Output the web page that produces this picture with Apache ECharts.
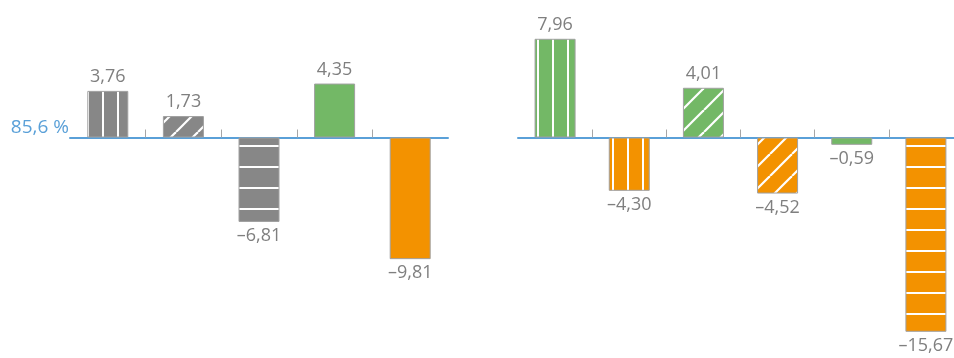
<!DOCTYPE html>
<html>
<head>
<meta charset="utf-8">
<script src="https://cdn.jsdelivr.net/npm/echarts@6/dist/echarts.min.js"></script>
<style>
    html, body { margin: 0; padding: 0; background: #fff; }
    #chart { width: 954px; height: 358px; }
</style>
</head>
<body>
<div id="chart"></div>
<script>
// Data
const baselineLabel = '85,6 %';
const leftCategories = ['L1', 'L2', 'L3', 'L4', 'L5'];
const leftValues = [3.76, 1.73, -6.81, 4.35, -9.81];
const rightCategories = ['R1', 'R2', 'R3', 'R4', 'R5', 'R6'];
const rightValues = [7.96, -4.30, 4.01, -4.52, -0.59, -15.67];

// Fill style for each bar (colour + stripe pattern)
const leftFills = [['gray', 'v'], ['gray', 'd'], ['gray', 'h'], ['green', ''], ['orange', '']];
const rightFills = [['green', 'v'], ['orange', 'v'], ['green', 'd'], ['orange', 'd'], ['green', 'h'], ['orange', 'h']];

document.addEventListener('DOMContentLoaded', function() {
    const colors = { gray: '#878787', green: '#73b866', orange: '#f39200' };
    const blue = '#5aa0d8';
    const labelGray = '#7f7f7f';

    function makePattern(bg, type) {
        const c = document.createElement('canvas');
        const ctx = c.getContext('2d');
        if (type === 'v') {
            c.width = 15; c.height = 4;
            ctx.fillStyle = bg; ctx.fillRect(0, 0, 15, 4);
            ctx.fillStyle = '#fff'; ctx.fillRect(12, 0, 2, 4);
        } else if (type === 'h') {
            c.width = 4; c.height = 21;
            ctx.fillStyle = bg; ctx.fillRect(0, 0, 4, 21);
            ctx.fillStyle = '#fff'; ctx.fillRect(0, 19, 4, 2);
        } else {
            const p = 22;
            c.width = p; c.height = p;
            ctx.fillStyle = bg; ctx.fillRect(0, 0, p, p);
            ctx.strokeStyle = '#fff'; ctx.lineWidth = 2.2;
            for (let k = -1; k <= 1; k++) {
                ctx.beginPath();
                ctx.moveTo(k * p, p);
                ctx.lineTo(k * p + p, 0);
                ctx.stroke();
            }
        }
        return { image: c, repeat: 'repeat' };
    }

    function fillFor(f) {
        return f[1] ? makePattern(colors[f[0]], f[1]) : colors[f[0]];
    }

    function fmt(v) {
        return (v < 0 ? '\u2013' : '') + Math.abs(v).toFixed(2).replace('.', ',');
    }

    function barData(values, fills) {
        return values.map(function(v, i) {
            return {
                value: v,
                itemStyle: { color: fillFor(fills[i]) },
                label: { position: v < 0 ? 'bottom' : 'top' }
            };
        });
    }

    function boundaries(n) {
        const arr = [];
        for (let i = 0; i <= n; i++) arr.push('b' + i);
        return arr;
    }

    const yMin = -18, yMax = 10;
    const unit = 12.4;
    const gridTop = 13.5;
    const gridHeight = (yMax - yMin) * unit;

    const mainAxis = function(gridIndex, cats) {
        return {
            type: 'category',
            gridIndex: gridIndex,
            data: cats,
            axisLine: { onZero: true, lineStyle: { color: blue, width: 2 } },
            axisTick: { show: false },
            axisLabel: { show: false }
        };
    };
    const tickAxis = function(gridIndex, n) {
        return {
            type: 'category',
            gridIndex: gridIndex,
            position: 'top',
            offset: -yMax * unit,
            boundaryGap: false,
            data: boundaries(n),
            axisLine: { show: false },
            axisLabel: { show: false },
            axisTick: {
                show: true,
                length: 8,
                interval: function(i) { return i > 0 && i < n; },
                lineStyle: { color: '#a6a6a6', width: 1 }
            }
        };
    };

    const barLabel = {
        show: true,
        distance: 5,
        color: labelGray,
        fontSize: 18,
        fontFamily: 'Open Sans',
        formatter: function(p) { return fmt(p.value); }
    };
    const barStyle = { borderColor: '#a0a0a0', borderWidth: 1 };

    const chart = echarts.init(document.getElementById('chart'));
    const option = {
        animation: false,
        grid: [
            { left: 70, width: 378, top: gridTop, height: gridHeight, outerBoundsMode: 'none' },
            { left: 518, width: 445, top: gridTop, height: gridHeight, outerBoundsMode: 'none' }
        ],
        xAxis: [
            mainAxis(0, leftCategories),
            tickAxis(0, leftCategories.length),
            mainAxis(1, rightCategories),
            tickAxis(1, rightCategories.length)
        ],
        yAxis: [
            {
                type: 'value', gridIndex: 0, min: yMin, max: yMax, interval: 2,
                axisLine: { show: false }, axisTick: { show: false }, splitLine: { show: false },
                axisLabel: {
                    margin: 1,
                    color: blue,
                    fontSize: 19,
                    fontFamily: 'Open Sans',
                    verticalAlign: 'bottom',
                    formatter: function(v) { return v === 0 ? baselineLabel : ''; }
                }
            },
            {
                type: 'value', gridIndex: 1, min: yMin, max: yMax, interval: 2,
                axisLine: { show: false }, axisTick: { show: false }, splitLine: { show: false },
                axisLabel: { show: false }
            }
        ],
        series: [
            {
                type: 'bar', xAxisIndex: 0, yAxisIndex: 0, barWidth: 41,
                itemStyle: barStyle, label: barLabel,
                data: barData(leftValues, leftFills)
            },
            {
                type: 'bar', xAxisIndex: 2, yAxisIndex: 1, barWidth: 41,
                itemStyle: barStyle, label: barLabel,
                data: barData(rightValues, rightFills)
            }
        ]
    };
    chart.setOption(option);
});
</script>
</body>
</html>
